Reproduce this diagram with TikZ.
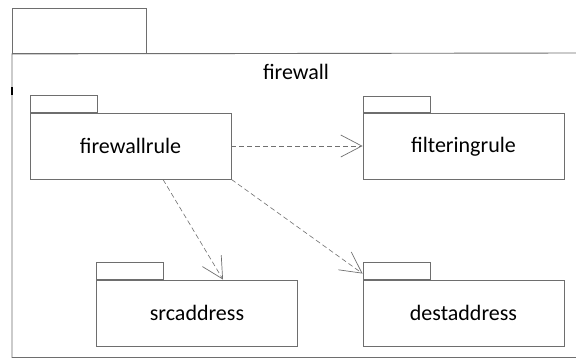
\documentclass[tikz,border=0pt]{standalone}
\usepackage{fontspec}
\setmainfont{Carlito}
\usetikzlibrary{arrows.meta}
\definecolor{edge}{HTML}{6E6E6E}
\definecolor{dep}{HTML}{707070}
\tikzset{
  pkgbody/.style={draw=edge, line width=0.9pt, fill=white, minimum width=201pt,
    minimum height=66pt, inner sep=0pt, font=\fontsize{22}{25}\selectfont},
  pkgtab/.style={draw=edge, line width=0.9pt, fill=white, minimum width=67pt,
    minimum height=16.5pt, inner sep=0pt, anchor=south west},
  dependency/.style={draw=dep, line width=0.6pt, dash pattern=on 5pt off 3pt,
    -{Straight Barb[length=21pt, width=22pt, line width=0.7pt]}}
}
\begin{document}
\begin{tikzpicture}[x=1pt, y=-1pt]
\useasboundingbox (0,0) rectangle (576,360);
\fill[white] (0,0) rectangle (576,360);
% enclosing package "firewall"
\node[draw=edge, line width=0.9pt, minimum width=134pt, minimum height=45pt,
  inner sep=0pt, anchor=north west] (outertab) at (12,8) {};
\draw[edge, line width=0.9pt] (576,53) -- (outertab.south west) -- (12,357.5) -- (576,357.5);
\draw[black, line width=1.4pt] (12,87) -- (12,95);
\node[font=\fontsize{22}{25}\selectfont] (title) at (296,71.5) {firewall};
% nested packages
\node[pkgbody] (fr)   at (130.5,146) {firewallrule};
\node[pkgbody] (filt) at (463.5,146.5) {filteringrule};
\node[pkgbody] (src)  at (197,313) {srcaddress};
\node[pkgbody] (dest) at (463.5,313) {destaddress};
\node[pkgtab] (frtab)   at (fr.north west) {};
\node[pkgtab] (filttab) at (filt.north west) {};
\node[pkgtab] (srctab)  at (src.north west) {};
\node[pkgtab] (desttab) at (dest.north west) {};
% dependencies
\draw[dependency] (fr.east) -- (filt.west |- fr.east);
\draw[dependency] ([xshift=32.5pt]fr.south) -- ([xshift=26pt]src.north);
\draw[dependency] (fr.south east) -- ([yshift=6pt]dest.north west);
\end{tikzpicture}
\end{document}
